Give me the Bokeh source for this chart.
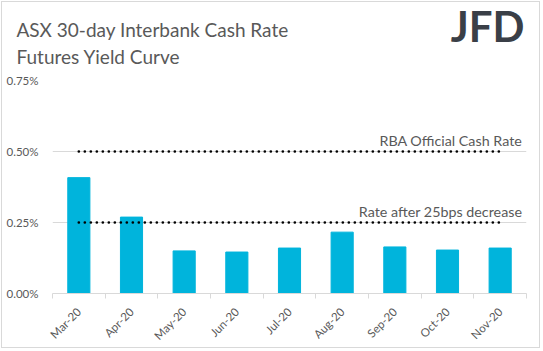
import math
from bokeh.plotting import figure
from bokeh.models import (ColumnDataSource, Range1d, FixedTicker, PrintfTickFormatter,
                          Label, LinearAxis, Grid, Title)
from bokeh.embed import file_html
from bokeh.resources import INLINE

months = ["Mar-20", "Apr-20", "May-20", "Jun-20", "Jul-20", "Aug-20", "Sep-20", "Oct-20", "Nov-20"]
yields = [0.408, 0.269, 0.150, 0.146, 0.160, 0.216, 0.164, 0.153, 0.160]
rba_rate = 0.50
cut_rate = 0.25
y_ticks = [0.0, 0.25, 0.50, 0.75]

centers = [i + 0.5 for i in range(len(months))]
src = ColumnDataSource(dict(x=centers, top=yields))

FONT = "Lato"
GRAY = "#595959"

p = figure(width=539, height=347, output_backend="svg", toolbar_location=None,
           x_range=Range1d(0, len(months)), y_range=Range1d(0, 0.75),
           min_border_left=50, min_border_right=15, min_border_top=78, min_border_bottom=54,
           x_axis_type=None, y_axis_type=None, title=None)
p.styles = {"border": "1px solid #d9d9d9", "margin": "1px"}
p.outline_line_color = None
p.background_fill_color = "white"
p.border_fill_color = "white"

yax = LinearAxis(ticker=FixedTicker(ticks=y_ticks),
                 formatter=PrintfTickFormatter(format="%.2f%%"))
yax.axis_line_color = None
yax.major_tick_line_color = None
yax.minor_tick_line_color = None
yax.major_label_standoff = 8
yax.major_label_text_font = FONT
yax.major_label_text_font_size = "11.5px"
yax.major_label_text_color = GRAY
p.add_layout(yax, "left")

xax = LinearAxis(ticker=FixedTicker(ticks=centers, minor_ticks=list(range(len(months) + 1))))
xax.major_label_overrides = {c: m for c, m in zip(centers, months)}
xax.major_tick_line_color = None
xax.minor_tick_out = 5
xax.minor_tick_in = 0
xax.minor_tick_line_color = "#d9d9d9"
xax.axis_line_color = "#d9d9d9"
xax.major_label_orientation = math.pi / 4
xax.major_label_standoff = 10
xax.major_label_text_font = FONT
xax.major_label_text_font_size = "11.5px"
xax.major_label_text_color = GRAY
p.add_layout(xax, "below")

p.xgrid.grid_line_color = None
p.add_layout(Grid(dimension=1, ticker=FixedTicker(ticks=y_ticks), grid_line_color="#d9d9d9"))

p.vbar(x="x", top="top", width=0.42, bottom=0, source=src, color="#00b4dc")

p.line([centers[0], centers[-1]], [rba_rate, rba_rate], line_color="black", line_width=2.7,
       line_dash="0 6", line_cap="round")
p.line([centers[0], centers[-1]], [cut_rate, cut_rate], line_color="black", line_width=2.7,
       line_dash="0 6", line_cap="round")

p.add_layout(Label(x=len(months) - 0.08, y=rba_rate, text="RBA Official Cash Rate",
                   text_align="right", text_baseline="bottom", y_offset=3,
                   text_font=FONT, text_font_size="14.3px", text_color=GRAY))
p.add_layout(Label(x=len(months) - 0.08, y=cut_rate, text="Rate after 25bps decrease",
                   text_align="right", text_baseline="bottom", y_offset=3,
                   text_font=FONT, text_font_size="14.3px", text_color=GRAY))

# titles, stacked outward from the frame
p.add_layout(Title(text="Futures Yield Curve", align="left", offset=-36, standoff=26,
                   text_font=FONT, text_font_size="19px", text_color=GRAY,
                   text_font_style="normal"), "above")
p.add_layout(Title(text="ASX 30-day Interbank Cash Rate", align="left", offset=-36, standoff=-23,
                   text_font=FONT, text_font_size="19px", text_color=GRAY,
                   text_font_style="normal"), "above")
p.add_layout(Title(text="JFD", align="right", offset=2, standoff=-46,
                   text_font=FONT, text_font_style="bold",
                   text_font_size="42px", text_color="#3a3f47"), "above")

open("out.html", "w").write(file_html(p, INLINE))
